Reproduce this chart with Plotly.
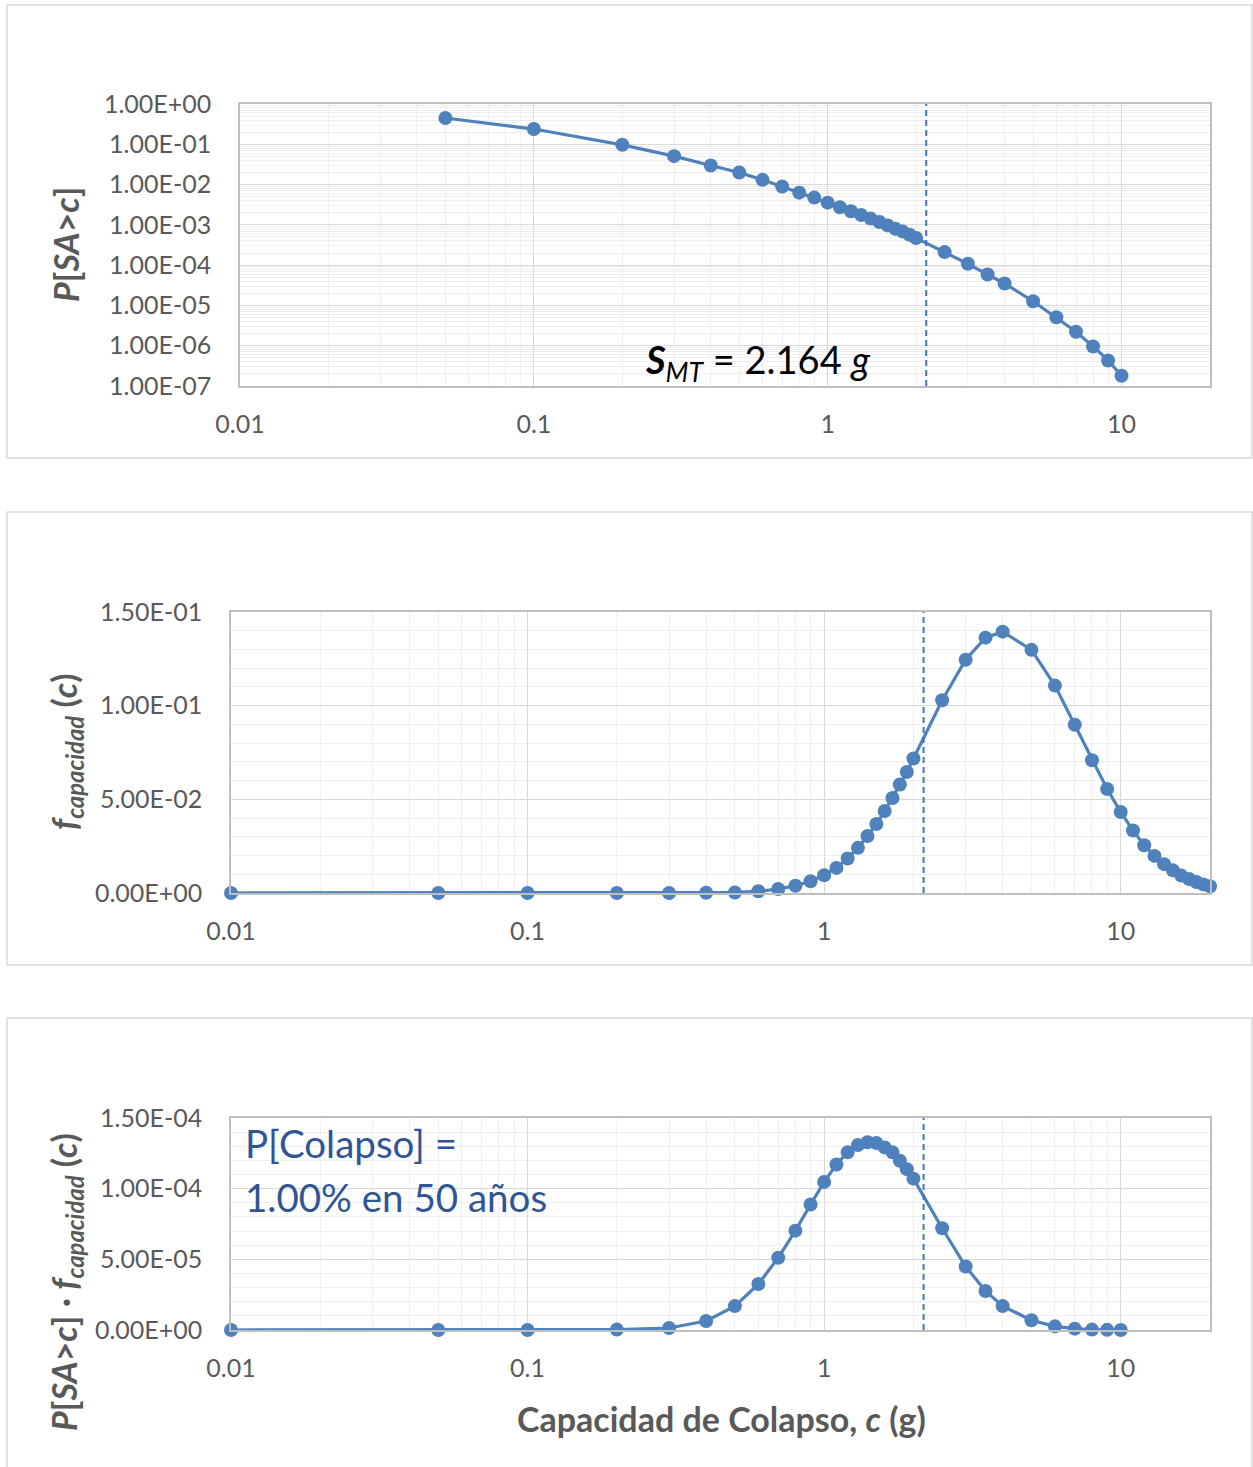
import math
import plotly.graph_objects as go

# ---------------- data ----------------
SMT = 2.164  # g

c_top = [0.05, 0.1, 0.2, 0.3, 0.4, 0.5, 0.6, 0.7, 0.8, 0.9, 1.0, 1.1, 1.2, 1.3, 1.4, 1.5,
         1.6, 1.7, 1.8, 1.9, 2.0, 2.5, 3.0, 3.5, 4.0, 5, 6, 7, 8, 9, 10]
p_exceed = [0.45, 0.239, 0.097, 0.0507, 0.0297, 0.0199, 0.0131, 0.0089, 0.0063, 0.00475,
            0.00356, 0.00273, 0.00217, 0.00176, 0.00143, 0.00118, 0.00097, 0.00080, 0.00068,
            0.00057, 0.00047, 0.000211, 0.000108, 5.86e-5, 3.5e-5, 1.27e-5, 5.07e-6,
            2.23e-6, 9.6e-7, 4.31e-7, 1.79e-7]

c_mid = [0.01, 0.05, 0.1, 0.2, 0.3, 0.4, 0.5, 0.6, 0.7, 0.8, 0.9, 1.0, 1.1, 1.2, 1.3, 1.4,
         1.5, 1.6, 1.7, 1.8, 1.9, 2.0, 2.5, 3.0, 3.5, 4.0, 5, 6, 7, 8, 9, 10, 11, 12, 13, 14,
         15, 16, 17, 18, 19, 20]
f_cap = [0, 0, 0, 0, 0.00002, 0.0001, 0.0003, 0.0009, 0.0021, 0.0039, 0.00625, 0.0095,
         0.0134, 0.0184, 0.0241, 0.0304, 0.0368, 0.0438, 0.0507, 0.0579, 0.0646, 0.0718,
         0.1029, 0.1245, 0.1363, 0.1395, 0.1298, 0.1107, 0.0898, 0.0709, 0.0555, 0.0432,
         0.0334, 0.0255, 0.0198, 0.0154, 0.0121, 0.0093, 0.0075, 0.0059, 0.0046, 0.0036]

c_bot = [0.01, 0.05, 0.1, 0.2, 0.3, 0.4, 0.5, 0.6, 0.7, 0.8, 0.9, 1.0, 1.1, 1.2, 1.3, 1.4,
         1.5, 1.6, 1.7, 1.8, 1.9, 2.0, 2.5, 3.0, 3.5, 4.0, 5, 6, 7, 8, 9, 10]
prod = [0, 0, 0, 3e-7, 1.4e-6, 6.4e-6, 1.69e-5, 3.25e-5, 5.11e-5, 7.03e-5, 8.88e-5,
        1.048e-4, 1.171e-4, 1.257e-4, 1.309e-4, 1.328e-4, 1.323e-4, 1.292e-4, 1.257e-4,
        1.197e-4, 1.138e-4, 1.071e-4, 7.2e-5, 4.49e-5, 2.76e-5, 1.69e-5, 6.9e-6, 2.6e-6,
        9.5e-7, 3e-7, 1e-7, 4e-8]

x_tick_vals = [0.01, 0.1, 1, 10]
x_tick_text = ["0.01", "0.1", "1", "10"]
y_top_vals = [1, 1e-1, 1e-2, 1e-3, 1e-4, 1e-5, 1e-6, 1e-7]
y_top_text = ["1.00E+00", "1.00E-01", "1.00E-02", "1.00E-03", "1.00E-04", "1.00E-05",
              "1.00E-06", "1.00E-07"]
y_mid_vals = [0, 0.05, 0.10, 0.15]
y_mid_text = ["0.00E+00", "5.00E-02", "1.00E-01", "1.50E-01"]
y_bot_vals = [0, 5e-5, 1e-4, 1.5e-4]
y_bot_text = ["0.00E+00", "5.00E-05", "1.00E-04", "1.50E-04"]

# ---------------- style ----------------
W, H = 1253, 1467
BLUE = "#4F81BD"
DASH_BLUE = "#4472C4"
GREY_TXT = "#595959"
FONT = "Lato, Carlito, Calibri, sans-serif"
MAJ_GRID = "#D9D9D9"
MIN_GRID = "#EFEFEF"


def px_x(p):
    return p / W


def px_y(p):
    return 1 - p / H


def xaxis(domain, anchor):
    return dict(type="log", range=[-2, math.log10(20)], domain=domain, anchor=anchor,
                automargin=False,
                tickmode="array", tickvals=x_tick_vals, ticktext=x_tick_text,
                showgrid=True, gridcolor=MAJ_GRID, gridwidth=1.3,
                minor=dict(dtick="D1", showgrid=True, gridcolor=MIN_GRID, gridwidth=1),
                showline=True, linecolor="#BFBFBF", linewidth=1.5, mirror=True,
                zeroline=False, ticks="",
                tickfont=dict(family=FONT, size=25, color=GREY_TXT),
                ticklabelstandoff=15)


def yaxis_common(domain, anchor):
    return dict(domain=domain, anchor=anchor, automargin=False,
                showgrid=True, gridcolor=MAJ_GRID,
                gridwidth=1.3, showline=True, linecolor="#BFBFBF", linewidth=1.5,
                mirror=True, zeroline=False, ticks="",
                tickfont=dict(family=FONT, size=25, color=GREY_TXT),
                ticklabelstandoff=22)


fig = go.Figure()
line_style = dict(color=BLUE, width=3.2)
marker_style = dict(size=14, color=BLUE)
fig.add_trace(go.Scatter(x=c_top, y=p_exceed, mode="lines+markers", line=line_style,
                         marker=marker_style, xaxis="x", yaxis="y", cliponaxis=False))
fig.add_trace(go.Scatter(x=c_mid, y=f_cap, mode="lines+markers", line=line_style,
                         marker=marker_style, xaxis="x2", yaxis="y2", cliponaxis=False))
fig.add_trace(go.Scatter(x=c_bot, y=prod, mode="lines+markers", line=line_style,
                         marker=marker_style, xaxis="x3", yaxis="y3", cliponaxis=False))

ytop = yaxis_common([px_y(386), px_y(104)], "x")
ytop.update(type="log", range=[-7, 0], tickmode="array", tickvals=y_top_vals,
            ticktext=y_top_text,
            minor=dict(dtick="D1", showgrid=True, gridcolor=MIN_GRID, gridwidth=1))
ymid = yaxis_common([px_y(893), px_y(612)], "x2")
ymid.update(range=[0, 0.15], tickmode="array", tickvals=y_mid_vals, ticktext=y_mid_text,
            minor=dict(dtick=0.01, showgrid=True, gridcolor=MIN_GRID, gridwidth=1))
ybot = yaxis_common([px_y(1330), px_y(1118)], "x3")
ybot.update(range=[0, 1.5e-4], tickmode="array", tickvals=y_bot_vals, ticktext=y_bot_text,
            minor=dict(dtick=1e-5, showgrid=True, gridcolor=MIN_GRID, gridwidth=1))

fig.update_layout(
    template="none",
    width=W, height=H, margin=dict(l=0, r=0, t=0, b=0, pad=0, autoexpand=False),
    paper_bgcolor="white", plot_bgcolor="white", showlegend=False,
    font=dict(family=FONT, color=GREY_TXT),
    xaxis=xaxis([px_x(240), px_x(1210)], "y"),
    xaxis2=xaxis([px_x(231), px_x(1210)], "y2"),
    xaxis3=xaxis([px_x(231), px_x(1210)], "y3"),
    yaxis=ytop, yaxis2=ymid, yaxis3=ybot,
)

shapes = []
# panel borders
for top, bot in [(5, 458), (512, 965), (1018, 1470)]:
    shapes.append(dict(type="rect", xref="paper", yref="paper",
                       x0=px_x(7), x1=px_x(1252), y0=px_y(bot), y1=px_y(top),
                       line=dict(color="#D9D9D9", width=1.5), layer="below"))
# S_MT dashed verticals
for xr, yr in [("x", "y"), ("x2", "y2"), ("x3", "y3")]:
    shapes.append(dict(type="line", xref=xr, yref=yr + " domain", x0=SMT, x1=SMT,
                       y0=0, y1=1, line=dict(color=DASH_BLUE, width=2, dash="6px,4px")))
fig.update_layout(shapes=shapes)

TITLE_FONT = dict(family=FONT, size=34, color=GREY_TXT)
annotations = [
    # y titles
    dict(text="<b><i>P</i>[<i>SA</i>><i>c</i>]</b>", textangle=-90, xref="paper",
         yref="paper", x=px_x(66), y=px_y(245), xanchor="center", yanchor="middle",
         showarrow=False, font=TITLE_FONT),
    dict(text="<b><i>f</i><sub><i>capacidad</i></sub> (<i>c</i>)</b>", textangle=-90,
         xref="paper", yref="paper", x=px_x(66), y=px_y(752), xanchor="center",
         yanchor="middle", showarrow=False, font=TITLE_FONT),
    dict(text="<b><i>P</i>[<i>SA</i>><i>c</i>] · <i>f</i><sub><i>capacidad</i></sub> (<i>c</i>)</b>",
         textangle=-90, xref="paper", yref="paper", x=px_x(66), y=px_y(1282),
         xanchor="center", yanchor="middle", showarrow=False, font=TITLE_FONT),
    # x title
    dict(text="<b>Capacidad de Colapso, <i>c</i> (g)</b>", xref="paper", yref="paper",
         x=px_x(721), y=px_y(1418), xanchor="center", yanchor="middle", showarrow=False,
         font=TITLE_FONT),
    # S_MT label
    dict(text="<b><i>S</i></b><sub><i>MT</i></sub> = 2.164 <i>g</i>", xref="paper",
         yref="paper", x=px_x(643), y=px_y(362), xanchor="left", yanchor="middle",
         showarrow=False, font=dict(family=FONT, size=38, color="black")),
    # P[Colapso]
    dict(text="P[Colapso] =", xref="paper", yref="paper", x=px_x(243), y=px_y(1143),
         xanchor="left", yanchor="middle", showarrow=False,
         font=dict(family=FONT, size=38.5, color="#2F5597")),
    dict(text="1.00% en 50 años", xref="paper", yref="paper", x=px_x(243), y=px_y(1197),
         xanchor="left", yanchor="middle", showarrow=False,
         font=dict(family=FONT, size=38.5, color="#2F5597")),
]
fig.update_layout(annotations=annotations)

fig.write_html("out.html")
